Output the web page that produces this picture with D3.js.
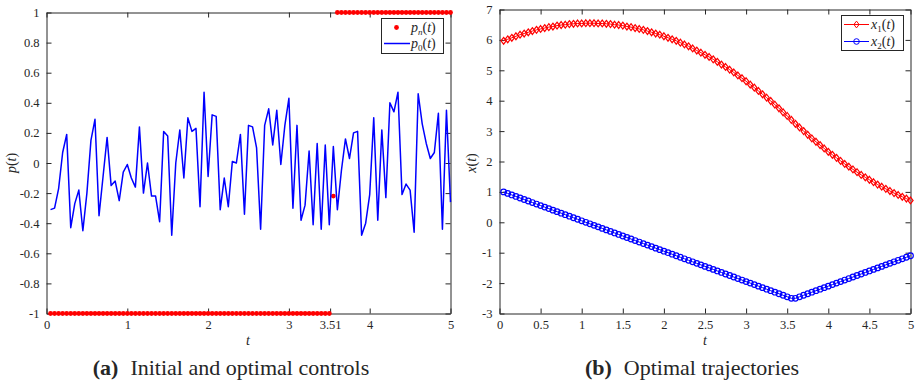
<!DOCTYPE html>
<html>
<head>
<meta charset="utf-8">
<script src="https://cdn.jsdelivr.net/npm/d3@7"></script>
<style>
  html, body { margin: 0; padding: 0; background: #fff; }
  svg text { font-family: "Liberation Serif", "Times New Roman", Times, "DejaVu Serif", serif; fill: #262626; }
</style>
</head>
<body>
<div id="chart"></div>
<script>
// sample times (both panels)
const tGrid = [
  0.05, 0.10, 0.15, 0.20, 0.25, 0.30, 0.35, 0.40, 0.45, 0.50,
  0.55, 0.60, 0.65, 0.70, 0.75, 0.80, 0.85, 0.90, 0.95, 1.00,
  1.05, 1.10, 1.15, 1.20, 1.25, 1.30, 1.35, 1.40, 1.45, 1.50,
  1.55, 1.60, 1.65, 1.70, 1.75, 1.80, 1.85, 1.90, 1.95, 2.00,
  2.05, 2.10, 2.15, 2.20, 2.25, 2.30, 2.35, 2.40, 2.45, 2.50,
  2.55, 2.60, 2.65, 2.70, 2.75, 2.80, 2.85, 2.90, 2.95, 3.00,
  3.05, 3.10, 3.15, 3.20, 3.25, 3.30, 3.35, 3.40, 3.45, 3.50,
  3.55, 3.60, 3.65, 3.70, 3.75, 3.80, 3.85, 3.90, 3.95, 4.00,
  4.05, 4.10, 4.15, 4.20, 4.25, 4.30, 4.35, 4.40, 4.45, 4.50,
  4.55, 4.60, 4.65, 4.70, 4.75, 4.80, 4.85, 4.90, 4.95, 5.00
];

// (a) optimal control p_n(t)
const pnValues = [
  -1, -1, -1, -1, -1, -1, -1, -1, -1, -1,
  -1, -1, -1, -1, -1, -1, -1, -1, -1, -1,
  -1, -1, -1, -1, -1, -1, -1, -1, -1, -1,
  -1, -1, -1, -1, -1, -1, -1, -1, -1, -1,
  -1, -1, -1, -1, -1, -1, -1, -1, -1, -1,
  -1, -1, -1, -1, -1, -1, -1, -1, -1, -1,
  -1, -1, -1, -1, -1, -1, -1, -1, -1, -1,
  -0.22, 1, 1, 1, 1, 1, 1, 1, 1, 1,
  1, 1, 1, 1, 1, 1, 1, 1, 1, 1,
  1, 1, 1, 1, 1, 1, 1, 1, 1, 1
];

// (a) initial control p_0(t)
const p0Values = [
  -0.31, -0.30, -0.17, 0.07, 0.19, -0.43, -0.27, -0.18, -0.45, -0.20,
  0.15, 0.29, -0.35, -0.09, 0.17, -0.15, -0.12, -0.25, -0.06, -0.01,
  -0.10, -0.16, 0.24, -0.20, 0.00, -0.22, -0.22, -0.39, 0.21, 0.18,
  -0.48, 0.00, 0.22, -0.10, 0.30, 0.21, 0.23, -0.29, 0.47, -0.09,
  0.32, 0.31, -0.31, -0.10, -0.29, 0.01, 0.00, 0.19, -0.34, 0.25,
  0.24, 0.10, -0.44, 0.25, 0.36, 0.12, 0.35, -0.01, 0.25, 0.43,
  -0.30, 0.25, -0.38, -0.28, 0.08, -0.41, 0.13, -0.44, 0.12, -0.41,
  0.11, -0.31, -0.05, 0.16, 0.03, 0.20, 0.21, -0.48, -0.40, -0.21,
  0.30, -0.38, 0.22, -0.23, 0.40, 0.34, 0.47, -0.21, -0.14, -0.18,
  -0.46, 0.46, 0.26, 0.13, 0.03, 0.07, 0.33, -0.44, 0.35, -0.26
];

// (b) trajectories
const x1Values = [
  5.97, 6.02, 6.07, 6.12, 6.17, 6.21, 6.25, 6.29, 6.33, 6.36,
  6.39, 6.42, 6.44, 6.47, 6.49, 6.50, 6.52, 6.53, 6.54, 6.54,
  6.55, 6.55, 6.55, 6.54, 6.54, 6.53, 6.52, 6.50, 6.49, 6.47,
  6.44, 6.42, 6.39, 6.36, 6.33, 6.29, 6.25, 6.21, 6.17, 6.12,
  6.07, 6.02, 5.97, 5.91, 5.85, 5.79, 5.72, 5.65, 5.58, 5.51,
  5.44, 5.36, 5.28, 5.19, 5.11, 5.02, 4.93, 4.83, 4.74, 4.64,
  4.53, 4.43, 4.32, 4.21, 4.10, 3.99, 3.87, 3.75, 3.62, 3.50,
  3.37, 3.24, 3.12, 3.00, 2.88, 2.76, 2.65, 2.54, 2.43, 2.32,
  2.22, 2.12, 2.02, 1.92, 1.83, 1.74, 1.65, 1.56, 1.48, 1.40,
  1.32, 1.24, 1.17, 1.10, 1.03, 0.96, 0.90, 0.84, 0.78, 0.72
];
const x2Values = [
  1.00, 0.95, 0.90, 0.85, 0.80, 0.75, 0.70, 0.65, 0.60, 0.55,
  0.50, 0.45, 0.40, 0.35, 0.30, 0.25, 0.20, 0.15, 0.10, 0.05,
  0.00, -0.05, -0.10, -0.15, -0.20, -0.25, -0.30, -0.35, -0.40, -0.45,
  -0.50, -0.55, -0.60, -0.65, -0.70, -0.75, -0.80, -0.85, -0.90, -0.95,
  -1.00, -1.05, -1.10, -1.15, -1.20, -1.25, -1.30, -1.35, -1.40, -1.45,
  -1.50, -1.55, -1.60, -1.65, -1.70, -1.75, -1.80, -1.85, -1.90, -1.95,
  -2.00, -2.05, -2.10, -2.15, -2.20, -2.25, -2.30, -2.35, -2.40, -2.45,
  -2.50, -2.50, -2.45, -2.40, -2.35, -2.30, -2.25, -2.20, -2.15, -2.10,
  -2.05, -2.00, -1.95, -1.90, -1.85, -1.80, -1.75, -1.70, -1.65, -1.60,
  -1.55, -1.50, -1.45, -1.40, -1.35, -1.30, -1.25, -1.20, -1.15, -1.10
];

// ticks
const aXTicks = [0, 1, 2, 3, 3.51, 4, 5];
const aYTicks = [-1, -0.8, -0.6, -0.4, -0.2, 0, 0.2, 0.4, 0.6, 0.8, 1];
const bXTicks = [0, 0.5, 1, 1.5, 2, 2.5, 3, 3.5, 4, 4.5, 5];
const bYTicks = [-3, -2, -1, 0, 1, 2, 3, 4, 5, 6, 7];

const width = 917;
const height = 384;
const axisColor = '#262626';
const serif = '"Liberation Serif", "Times New Roman", Times, "DejaVu Serif", serif';
const fmt = (d) => String(+d.toFixed(2));

const svg = d3.select('#chart')
  .append('svg')
  .attr('width', width)
  .attr('height', height)
  .attr('font-family', serif);

// draws frame, inward ticks on all four sides and tick labels
function drawFrame(x, y, xTicks, yTicks) {
  const [x0, x1] = x.range();
  const [y0, y1] = y.range();
  const g = svg.append('g');

  g.append('g')
    .attr('transform', `translate(0,${y0})`)
    .call(d3.axisBottom(x).tickValues(xTicks).tickFormat(fmt).tickSize(-5).tickSizeOuter(0).tickPadding(7));
  g.append('g')
    .attr('transform', `translate(0,${y1})`)
    .call(d3.axisTop(x).tickValues(xTicks).tickFormat('').tickSize(-5).tickSizeOuter(0));
  g.append('g')
    .attr('transform', `translate(${x0},0)`)
    .call(d3.axisLeft(y).tickValues(yTicks).tickFormat(fmt).tickSize(-5).tickSizeOuter(0).tickPadding(7));
  g.append('g')
    .attr('transform', `translate(${x1},0)`)
    .call(d3.axisRight(y).tickValues(yTicks).tickFormat('').tickSize(-5).tickSizeOuter(0));

  g.selectAll('g').attr('font-family', serif);
  g.selectAll('.domain').attr('stroke', axisColor);
  g.selectAll('.tick line').attr('stroke', axisColor);
  g.selectAll('.tick text')
    .attr('font-family', serif)
    .attr('font-size', 12.5)
    .attr('fill', axisColor);
  return g;
}

function axisLabel(x, yPos, rotate) {
  const t = svg.append('text')
    .attr('text-anchor', 'middle')
    .attr('font-family', serif)
    .attr('font-size', 14)
    .attr('font-style', 'italic');
  if (rotate) {
    t.attr('transform', `translate(${x},${yPos}) rotate(-90)`);
  } else {
    t.attr('x', x).attr('y', yPos);
  }
  return t;
}

function mathLabel(sel, base, sub) {
  sel.attr('font-family', serif);
  sel.append('tspan').attr('font-style', 'italic').text(base);
  if (sub) {
    sel.append('tspan').attr('font-size', 9).attr('dy', 3).attr('font-style', sub === 'n' ? 'italic' : 'normal').text(sub);
    sel.append('tspan').attr('dy', -3).attr('font-style', 'normal').text('(');
  } else {
    sel.append('tspan').attr('font-style', 'normal').text('(');
  }
  sel.append('tspan').attr('font-style', 'italic').text('t');
  sel.append('tspan').attr('font-style', 'normal').text(')');
}

function caption(x, yPos, letter, text) {
  const t = svg.append('text')
    .attr('x', x)
    .attr('y', yPos)
    .attr('text-anchor', 'middle')
    .attr('font-family', serif)
    .attr('font-size', 22)
    .attr('fill', '#111');
  t.append('tspan').attr('font-weight', 'bold').text(`(${letter})`);
  t.append('tspan').attr('dx', 12).text(text);
}

// ---------- panel (a) ----------
const xa = d3.scaleLinear().domain([0, 5]).range([46.5, 450.5]);
const ya = d3.scaleLinear().domain([-1, 1]).range([313.5, 12.5]);
drawFrame(xa, ya, aXTicks, aYTicks);

const aData = tGrid.map((t, i) => ({ t, pn: pnValues[i], p0: p0Values[i] }));

svg.append('g')
  .selectAll('circle')
  .data(aData)
  .join('circle')
  .attr('cx', (d) => xa(d.t))
  .attr('cy', (d) => ya(d.pn))
  .attr('r', 2.4)
  .attr('fill', '#ff0000');

svg.append('path')
  .datum(aData)
  .attr('fill', 'none')
  .attr('stroke', '#0000ff')
  .attr('stroke-width', 1.5)
  .attr('stroke-linejoin', 'round')
  .attr('d', d3.line().x((d) => xa(d.t)).y((d) => ya(d.p0)));

// legend (a)
const la = svg.append('g');
la.append('rect')
  .attr('x', 381.5).attr('y', 18.5).attr('width', 62).attr('height', 35)
  .attr('fill', '#fff').attr('stroke', axisColor);
la.append('circle').attr('cx', 396.5).attr('cy', 27.5).attr('r', 2.4).attr('fill', '#ff0000');
la.append('line').attr('x1', 384).attr('x2', 410).attr('y1', 43.5).attr('y2', 43.5)
  .attr('stroke', '#0000ff').attr('stroke-width', 1.5);
mathLabel(la.append('text').attr('x', 411).attr('y', 32).attr('font-size', 14), 'p', 'n');
mathLabel(la.append('text').attr('x', 411).attr('y', 48).attr('font-size', 14), 'p', '0');

axisLabel(248, 345).text('t');
mathLabel(axisLabel(16, 163, true), 'p', null);
caption(231, 375, 'a', 'Initial and optimal controls');

// ---------- panel (b) ----------
const xb = d3.scaleLinear().domain([0, 5]).range([499.5, 910.5]);
const yb = d3.scaleLinear().domain([-3, 7]).range([313.5, 9.5]);
drawFrame(xb, yb, bXTicks, bYTicks);

const bData = tGrid.map((t, i) => ({ t, x1: x1Values[i], x2: x2Values[i] }));
const diamond = (cx, cy) => `M${cx},${cy - 3.4}L${cx + 2.6},${cy}L${cx},${cy + 3.4}L${cx - 2.6},${cy}Z`;

const s1 = svg.append('g');
s1.append('path')
  .datum(bData)
  .attr('fill', 'none')
  .attr('stroke', '#ff0000')
  .attr('stroke-width', 1)
  .attr('d', d3.line().x((d) => xb(d.t)).y((d) => yb(d.x1)));
s1.selectAll('path.m')
  .data(bData)
  .join('path')
  .attr('class', 'm')
  .attr('d', (d) => diamond(xb(d.t), yb(d.x1)))
  .attr('fill', 'none')
  .attr('stroke', '#ff0000')
  .attr('stroke-width', 1.2);

const s2 = svg.append('g');
s2.append('path')
  .datum(bData)
  .attr('fill', 'none')
  .attr('stroke', '#0000ff')
  .attr('stroke-width', 1)
  .attr('d', d3.line().x((d) => xb(d.t)).y((d) => yb(d.x2)));
s2.selectAll('circle')
  .data(bData)
  .join('circle')
  .attr('cx', (d) => xb(d.t))
  .attr('cy', (d) => yb(d.x2))
  .attr('r', 2.8)
  .attr('fill', 'none')
  .attr('stroke', '#0000ff')
  .attr('stroke-width', 1.2);

// legend (b)
const lb = svg.append('g');
lb.append('rect')
  .attr('x', 841.5).attr('y', 15.5).attr('width', 62).attr('height', 35)
  .attr('fill', '#fff').attr('stroke', axisColor);
lb.append('line').attr('x1', 844).attr('x2', 869).attr('y1', 24.5).attr('y2', 24.5)
  .attr('stroke', '#ff0000');
lb.append('path').attr('d', diamond(856.5, 24.5)).attr('fill', 'none').attr('stroke', '#ff0000');
lb.append('line').attr('x1', 844).attr('x2', 869).attr('y1', 41.5).attr('y2', 41.5)
  .attr('stroke', '#0000ff');
lb.append('circle').attr('cx', 856.5).attr('cy', 41.5).attr('r', 2.8)
  .attr('fill', 'none').attr('stroke', '#0000ff');
mathLabel(lb.append('text').attr('x', 871).attr('y', 29).attr('font-size', 14), 'x', '1');
mathLabel(lb.append('text').attr('x', 871).attr('y', 46).attr('font-size', 14), 'x', '2');

axisLabel(705, 345).text('t');
mathLabel(axisLabel(476, 163, true), 'x', null);
caption(692, 375, 'b', 'Optimal trajectories');
</script>
</body>
</html>
